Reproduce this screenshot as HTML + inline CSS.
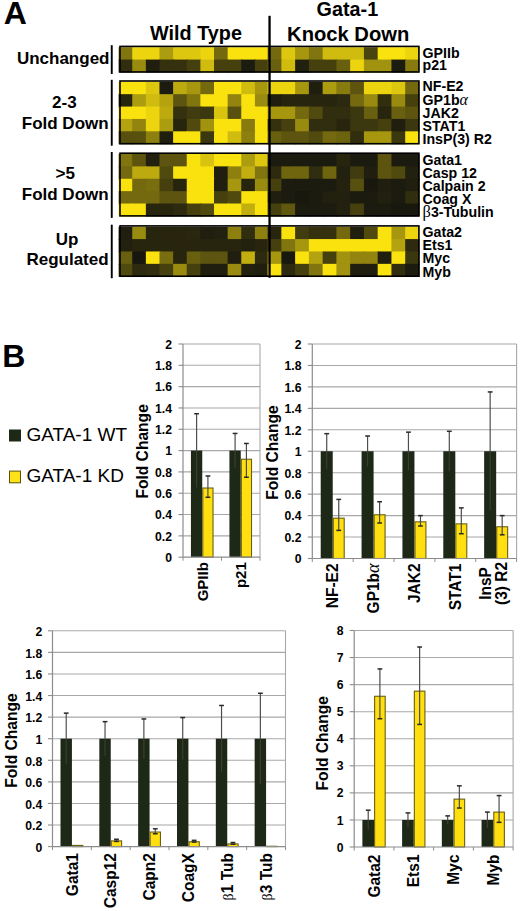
<!DOCTYPE html>
<html><head><meta charset="utf-8"><style>
html,body{margin:0;padding:0;background:#fff;}
svg{display:block;}
</style></head><body>
<svg width="520" height="911" viewBox="0 0 520 911">
<rect width="520" height="911" fill="#fff"/>
<text x="3.70" y="24.40" font-family='"Liberation Sans", sans-serif' font-size="32" font-weight="bold" text-anchor="start" >A</text>
<text x="196.00" y="40.40" font-family='"Liberation Sans", sans-serif' font-size="19.8" font-weight="bold" text-anchor="middle" >Wild Type</text>
<text x="347.40" y="16.00" font-family='"Liberation Sans", sans-serif' font-size="19.8" font-weight="bold" text-anchor="middle" >Gata-1</text>
<text x="348.20" y="40.80" font-family='"Liberation Sans", sans-serif' font-size="20.2" font-weight="bold" text-anchor="middle" >Knock Down</text>
<rect x="118.60" y="47.20" width="14.63" height="13.38" fill="#80750f"/>
<rect x="132.23" y="47.20" width="14.63" height="13.38" fill="#ecd50f"/>
<rect x="145.86" y="47.20" width="14.63" height="13.38" fill="#ecd50f"/>
<rect x="159.49" y="47.20" width="14.63" height="13.38" fill="#ac9c0f"/>
<rect x="173.12" y="47.20" width="14.63" height="13.38" fill="#ddc80f"/>
<rect x="186.75" y="47.20" width="14.63" height="13.38" fill="#ddc80f"/>
<rect x="200.38" y="47.20" width="14.63" height="13.38" fill="#ecd50f"/>
<rect x="214.01" y="47.20" width="14.63" height="13.38" fill="#74690f"/>
<rect x="227.64" y="47.20" width="14.63" height="13.38" fill="#fae20f"/>
<rect x="241.27" y="47.20" width="14.63" height="13.38" fill="#fae20f"/>
<rect x="254.90" y="47.20" width="14.63" height="13.38" fill="#fae20f"/>
<rect x="267.60" y="47.20" width="14.76" height="13.38" fill="#74690f"/>
<rect x="281.36" y="47.20" width="14.76" height="13.38" fill="#ddc80f"/>
<rect x="295.12" y="47.20" width="14.76" height="13.38" fill="#a7970f"/>
<rect x="308.88" y="47.20" width="14.76" height="13.38" fill="#80750f"/>
<rect x="322.64" y="47.20" width="14.76" height="13.38" fill="#cfbc0f"/>
<rect x="336.40" y="47.20" width="14.76" height="13.38" fill="#cfbc0f"/>
<rect x="350.16" y="47.20" width="14.76" height="13.38" fill="#cfbc0f"/>
<rect x="363.92" y="47.20" width="14.76" height="13.38" fill="#4a440f"/>
<rect x="377.68" y="47.20" width="14.76" height="13.38" fill="#fae20f"/>
<rect x="391.44" y="47.20" width="14.76" height="13.38" fill="#fae20f"/>
<rect x="405.20" y="47.20" width="14.26" height="13.38" fill="#ecd50f"/>
<text x="422.50" y="58.10" font-family='"Liberation Sans", sans-serif' font-size="14.2" font-weight="bold" text-anchor="start" >GPIIb</text>
<rect x="118.60" y="59.58" width="14.63" height="12.98" fill="#312e0f"/>
<rect x="132.23" y="59.58" width="14.63" height="12.98" fill="#998b0f"/>
<rect x="145.86" y="59.58" width="14.63" height="12.98" fill="#1f1e0f"/>
<rect x="159.49" y="59.58" width="14.63" height="12.98" fill="#35310f"/>
<rect x="173.12" y="59.58" width="14.63" height="12.98" fill="#35310f"/>
<rect x="186.75" y="59.58" width="14.63" height="12.98" fill="#46400f"/>
<rect x="200.38" y="59.58" width="14.63" height="12.98" fill="#cfbc0f"/>
<rect x="214.01" y="59.58" width="14.63" height="12.98" fill="#46400f"/>
<rect x="227.64" y="59.58" width="14.63" height="12.98" fill="#46400f"/>
<rect x="241.27" y="59.58" width="14.63" height="12.98" fill="#1c1b0f"/>
<rect x="254.90" y="59.58" width="14.63" height="12.98" fill="#46400f"/>
<rect x="267.60" y="59.58" width="14.76" height="12.98" fill="#685f0f"/>
<rect x="281.36" y="59.58" width="14.76" height="12.98" fill="#cfbc0f"/>
<rect x="295.12" y="59.58" width="14.76" height="12.98" fill="#22210f"/>
<rect x="308.88" y="59.58" width="14.76" height="12.98" fill="#46400f"/>
<rect x="322.64" y="59.58" width="14.76" height="12.98" fill="#46400f"/>
<rect x="336.40" y="59.58" width="14.76" height="12.98" fill="#685f0f"/>
<rect x="350.16" y="59.58" width="14.76" height="12.98" fill="#ecd50f"/>
<rect x="363.92" y="59.58" width="14.76" height="12.98" fill="#a1920f"/>
<rect x="377.68" y="59.58" width="14.76" height="12.98" fill="#a1920f"/>
<rect x="391.44" y="59.58" width="14.76" height="12.98" fill="#1c1b0f"/>
<rect x="405.20" y="59.58" width="14.26" height="12.98" fill="#877b0f"/>
<text x="422.50" y="70.10" font-family='"Liberation Sans", sans-serif' font-size="14.2" font-weight="bold" text-anchor="start" >p21</text>
<rect x="120.0" y="46.40" width="298.9" height="25.56" fill="none" stroke="#000" stroke-width="1.6"/>
<rect x="110.8" y="45.20" width="1.9" height="28.76" fill="#000"/>
<rect x="118.60" y="81.80" width="14.63" height="13.38" fill="#fae20f"/>
<rect x="132.23" y="81.80" width="14.63" height="13.38" fill="#fae20f"/>
<rect x="145.86" y="81.80" width="14.63" height="13.38" fill="#ddc80f"/>
<rect x="159.49" y="81.80" width="14.63" height="13.38" fill="#1c1b0f"/>
<rect x="173.12" y="81.80" width="14.63" height="13.38" fill="#bcaa0f"/>
<rect x="186.75" y="81.80" width="14.63" height="13.38" fill="#a7970f"/>
<rect x="200.38" y="81.80" width="14.63" height="13.38" fill="#74690f"/>
<rect x="214.01" y="81.80" width="14.63" height="13.38" fill="#fae20f"/>
<rect x="227.64" y="81.80" width="14.63" height="13.38" fill="#fae20f"/>
<rect x="241.27" y="81.80" width="14.63" height="13.38" fill="#cfbc0f"/>
<rect x="254.90" y="81.80" width="14.63" height="13.38" fill="#a7970f"/>
<rect x="267.60" y="81.80" width="14.76" height="13.38" fill="#ecd50f"/>
<rect x="281.36" y="81.80" width="14.76" height="13.38" fill="#ecd50f"/>
<rect x="295.12" y="81.80" width="14.76" height="13.38" fill="#a7970f"/>
<rect x="308.88" y="81.80" width="14.76" height="13.38" fill="#1f1e0f"/>
<rect x="322.64" y="81.80" width="14.76" height="13.38" fill="#ac9c0f"/>
<rect x="336.40" y="81.80" width="14.76" height="13.38" fill="#877b0f"/>
<rect x="350.16" y="81.80" width="14.76" height="13.38" fill="#5c540f"/>
<rect x="363.92" y="81.80" width="14.76" height="13.38" fill="#ecd50f"/>
<rect x="377.68" y="81.80" width="14.76" height="13.38" fill="#ecd50f"/>
<rect x="391.44" y="81.80" width="14.76" height="13.38" fill="#ddc80f"/>
<rect x="405.20" y="81.80" width="14.26" height="13.38" fill="#74690f"/>
<text x="422.50" y="91.40" font-family='"Liberation Sans", sans-serif' font-size="14.2" font-weight="bold" text-anchor="start" >NF-E2</text>
<rect x="118.60" y="94.18" width="14.63" height="13.38" fill="#28250f"/>
<rect x="132.23" y="94.18" width="14.63" height="13.38" fill="#ac9c0f"/>
<rect x="145.86" y="94.18" width="14.63" height="13.38" fill="#cfbc0f"/>
<rect x="159.49" y="94.18" width="14.63" height="13.38" fill="#b4a30f"/>
<rect x="173.12" y="94.18" width="14.63" height="13.38" fill="#5c540f"/>
<rect x="186.75" y="94.18" width="14.63" height="13.38" fill="#80750f"/>
<rect x="200.38" y="94.18" width="14.63" height="13.38" fill="#fae20f"/>
<rect x="214.01" y="94.18" width="14.63" height="13.38" fill="#fae20f"/>
<rect x="227.64" y="94.18" width="14.63" height="13.38" fill="#92840f"/>
<rect x="241.27" y="94.18" width="14.63" height="13.38" fill="#fae20f"/>
<rect x="254.90" y="94.18" width="14.63" height="13.38" fill="#998b0f"/>
<rect x="267.60" y="94.18" width="14.76" height="13.38" fill="#1f1e0f"/>
<rect x="281.36" y="94.18" width="14.76" height="13.38" fill="#28250f"/>
<rect x="295.12" y="94.18" width="14.76" height="13.38" fill="#28250f"/>
<rect x="308.88" y="94.18" width="14.76" height="13.38" fill="#28250f"/>
<rect x="322.64" y="94.18" width="14.76" height="13.38" fill="#28250f"/>
<rect x="336.40" y="94.18" width="14.76" height="13.38" fill="#2b290f"/>
<rect x="350.16" y="94.18" width="14.76" height="13.38" fill="#74690f"/>
<rect x="363.92" y="94.18" width="14.76" height="13.38" fill="#998b0f"/>
<rect x="377.68" y="94.18" width="14.76" height="13.38" fill="#312e0f"/>
<rect x="391.44" y="94.18" width="14.76" height="13.38" fill="#998b0f"/>
<rect x="405.20" y="94.18" width="14.26" height="13.38" fill="#46400f"/>
<text x="422.50" y="104.50" font-family='"Liberation Sans", sans-serif' font-size="14.2" font-weight="bold" text-anchor="start" >GP1b<tspan font-family='"Liberation Serif", serif' font-weight="normal" font-style="italic" font-size="16">α</tspan></text>
<rect x="118.60" y="106.56" width="14.63" height="13.38" fill="#fae20f"/>
<rect x="132.23" y="106.56" width="14.63" height="13.38" fill="#fae20f"/>
<rect x="145.86" y="106.56" width="14.63" height="13.38" fill="#ecd50f"/>
<rect x="159.49" y="106.56" width="14.63" height="13.38" fill="#bcaa0f"/>
<rect x="173.12" y="106.56" width="14.63" height="13.38" fill="#35310f"/>
<rect x="186.75" y="106.56" width="14.63" height="13.38" fill="#413c0f"/>
<rect x="200.38" y="106.56" width="14.63" height="13.38" fill="#3b370f"/>
<rect x="214.01" y="106.56" width="14.63" height="13.38" fill="#d8c30f"/>
<rect x="227.64" y="106.56" width="14.63" height="13.38" fill="#57500f"/>
<rect x="241.27" y="106.56" width="14.63" height="13.38" fill="#fae20f"/>
<rect x="254.90" y="106.56" width="14.63" height="13.38" fill="#fae20f"/>
<rect x="267.60" y="106.56" width="14.76" height="13.38" fill="#a7970f"/>
<rect x="281.36" y="106.56" width="14.76" height="13.38" fill="#a7970f"/>
<rect x="295.12" y="106.56" width="14.76" height="13.38" fill="#74690f"/>
<rect x="308.88" y="106.56" width="14.76" height="13.38" fill="#504a0f"/>
<rect x="322.64" y="106.56" width="14.76" height="13.38" fill="#312e0f"/>
<rect x="336.40" y="106.56" width="14.76" height="13.38" fill="#312e0f"/>
<rect x="350.16" y="106.56" width="14.76" height="13.38" fill="#3b370f"/>
<rect x="363.92" y="106.56" width="14.76" height="13.38" fill="#685f0f"/>
<rect x="377.68" y="106.56" width="14.76" height="13.38" fill="#28250f"/>
<rect x="391.44" y="106.56" width="14.76" height="13.38" fill="#685f0f"/>
<rect x="405.20" y="106.56" width="14.26" height="13.38" fill="#5c540f"/>
<text x="422.50" y="118.30" font-family='"Liberation Sans", sans-serif' font-size="14.2" font-weight="bold" text-anchor="start" >JAK2</text>
<rect x="118.60" y="118.94" width="14.63" height="13.38" fill="#b4a30f"/>
<rect x="132.23" y="118.94" width="14.63" height="13.38" fill="#92840f"/>
<rect x="145.86" y="118.94" width="14.63" height="13.38" fill="#ecd50f"/>
<rect x="159.49" y="118.94" width="14.63" height="13.38" fill="#ac9c0f"/>
<rect x="173.12" y="118.94" width="14.63" height="13.38" fill="#28250f"/>
<rect x="186.75" y="118.94" width="14.63" height="13.38" fill="#504a0f"/>
<rect x="200.38" y="118.94" width="14.63" height="13.38" fill="#a1920f"/>
<rect x="214.01" y="118.94" width="14.63" height="13.38" fill="#fae20f"/>
<rect x="227.64" y="118.94" width="14.63" height="13.38" fill="#fae20f"/>
<rect x="241.27" y="118.94" width="14.63" height="13.38" fill="#877b0f"/>
<rect x="254.90" y="118.94" width="14.63" height="13.38" fill="#fae20f"/>
<rect x="267.60" y="118.94" width="14.76" height="13.38" fill="#35310f"/>
<rect x="281.36" y="118.94" width="14.76" height="13.38" fill="#46400f"/>
<rect x="295.12" y="118.94" width="14.76" height="13.38" fill="#998b0f"/>
<rect x="308.88" y="118.94" width="14.76" height="13.38" fill="#312e0f"/>
<rect x="322.64" y="118.94" width="14.76" height="13.38" fill="#312e0f"/>
<rect x="336.40" y="118.94" width="14.76" height="13.38" fill="#28250f"/>
<rect x="350.16" y="118.94" width="14.76" height="13.38" fill="#3b370f"/>
<rect x="363.92" y="118.94" width="14.76" height="13.38" fill="#3b370f"/>
<rect x="377.68" y="118.94" width="14.76" height="13.38" fill="#46400f"/>
<rect x="391.44" y="118.94" width="14.76" height="13.38" fill="#1f1e0f"/>
<rect x="405.20" y="118.94" width="14.26" height="13.38" fill="#3b370f"/>
<text x="422.50" y="131.40" font-family='"Liberation Sans", sans-serif' font-size="14.2" font-weight="bold" text-anchor="start" >STAT1</text>
<rect x="118.60" y="131.32" width="14.63" height="12.98" fill="#57500f"/>
<rect x="132.23" y="131.32" width="14.63" height="12.98" fill="#57500f"/>
<rect x="145.86" y="131.32" width="14.63" height="12.98" fill="#8d800f"/>
<rect x="159.49" y="131.32" width="14.63" height="12.98" fill="#1f1e0f"/>
<rect x="173.12" y="131.32" width="14.63" height="12.98" fill="#fae20f"/>
<rect x="186.75" y="131.32" width="14.63" height="12.98" fill="#fae20f"/>
<rect x="200.38" y="131.32" width="14.63" height="12.98" fill="#3b370f"/>
<rect x="214.01" y="131.32" width="14.63" height="12.98" fill="#fae20f"/>
<rect x="227.64" y="131.32" width="14.63" height="12.98" fill="#cfbc0f"/>
<rect x="241.27" y="131.32" width="14.63" height="12.98" fill="#8d800f"/>
<rect x="254.90" y="131.32" width="14.63" height="12.98" fill="#fae20f"/>
<rect x="267.60" y="131.32" width="14.76" height="12.98" fill="#685f0f"/>
<rect x="281.36" y="131.32" width="14.76" height="12.98" fill="#5c540f"/>
<rect x="295.12" y="131.32" width="14.76" height="12.98" fill="#5c540f"/>
<rect x="308.88" y="131.32" width="14.76" height="12.98" fill="#504a0f"/>
<rect x="322.64" y="131.32" width="14.76" height="12.98" fill="#74690f"/>
<rect x="336.40" y="131.32" width="14.76" height="12.98" fill="#6c630f"/>
<rect x="350.16" y="131.32" width="14.76" height="12.98" fill="#312e0f"/>
<rect x="363.92" y="131.32" width="14.76" height="12.98" fill="#a7970f"/>
<rect x="377.68" y="131.32" width="14.76" height="12.98" fill="#a7970f"/>
<rect x="391.44" y="131.32" width="14.76" height="12.98" fill="#3b370f"/>
<rect x="405.20" y="131.32" width="14.26" height="12.98" fill="#fae20f"/>
<text x="422.50" y="143.70" font-family='"Liberation Sans", sans-serif' font-size="14.2" font-weight="bold" text-anchor="start" >InsP(3) R2</text>
<rect x="120.0" y="81.00" width="298.9" height="62.70" fill="none" stroke="#000" stroke-width="1.6"/>
<rect x="110.8" y="79.80" width="1.9" height="65.90" fill="#000"/>
<rect x="118.60" y="154.00" width="14.63" height="13.38" fill="#80750f"/>
<rect x="132.23" y="154.00" width="14.63" height="13.38" fill="#5c540f"/>
<rect x="145.86" y="154.00" width="14.63" height="13.38" fill="#22210f"/>
<rect x="159.49" y="154.00" width="14.63" height="13.38" fill="#5c540f"/>
<rect x="173.12" y="154.00" width="14.63" height="13.38" fill="#5c540f"/>
<rect x="186.75" y="154.00" width="14.63" height="13.38" fill="#fae20f"/>
<rect x="200.38" y="154.00" width="14.63" height="13.38" fill="#d8c30f"/>
<rect x="214.01" y="154.00" width="14.63" height="13.38" fill="#fae20f"/>
<rect x="227.64" y="154.00" width="14.63" height="13.38" fill="#fae20f"/>
<rect x="241.27" y="154.00" width="14.63" height="13.38" fill="#ac9c0f"/>
<rect x="254.90" y="154.00" width="14.63" height="13.38" fill="#ddc80f"/>
<rect x="267.60" y="154.00" width="14.76" height="13.38" fill="#1c1b0f"/>
<rect x="281.36" y="154.00" width="14.76" height="13.38" fill="#1c1b0f"/>
<rect x="295.12" y="154.00" width="14.76" height="13.38" fill="#1c1b0f"/>
<rect x="308.88" y="154.00" width="14.76" height="13.38" fill="#1c1b0f"/>
<rect x="322.64" y="154.00" width="14.76" height="13.38" fill="#1c1b0f"/>
<rect x="336.40" y="154.00" width="14.76" height="13.38" fill="#28250f"/>
<rect x="350.16" y="154.00" width="14.76" height="13.38" fill="#1c1b0f"/>
<rect x="363.92" y="154.00" width="14.76" height="13.38" fill="#1c1b0f"/>
<rect x="377.68" y="154.00" width="14.76" height="13.38" fill="#5c540f"/>
<rect x="391.44" y="154.00" width="14.76" height="13.38" fill="#1c1b0f"/>
<rect x="405.20" y="154.00" width="14.26" height="13.38" fill="#1c1b0f"/>
<text x="422.50" y="164.50" font-family='"Liberation Sans", sans-serif' font-size="14.2" font-weight="bold" text-anchor="start" >Gata1</text>
<rect x="118.60" y="166.38" width="14.63" height="13.38" fill="#74690f"/>
<rect x="132.23" y="166.38" width="14.63" height="13.38" fill="#bcaa0f"/>
<rect x="145.86" y="166.38" width="14.63" height="13.38" fill="#bcaa0f"/>
<rect x="159.49" y="166.38" width="14.63" height="13.38" fill="#504a0f"/>
<rect x="173.12" y="166.38" width="14.63" height="13.38" fill="#fae20f"/>
<rect x="186.75" y="166.38" width="14.63" height="13.38" fill="#fae20f"/>
<rect x="200.38" y="166.38" width="14.63" height="13.38" fill="#fae20f"/>
<rect x="214.01" y="166.38" width="14.63" height="13.38" fill="#1f1e0f"/>
<rect x="227.64" y="166.38" width="14.63" height="13.38" fill="#8d800f"/>
<rect x="241.27" y="166.38" width="14.63" height="13.38" fill="#c2af0f"/>
<rect x="254.90" y="166.38" width="14.63" height="13.38" fill="#80750f"/>
<rect x="267.60" y="166.38" width="14.76" height="13.38" fill="#2d2a0f"/>
<rect x="281.36" y="166.38" width="14.76" height="13.38" fill="#6f650f"/>
<rect x="295.12" y="166.38" width="14.76" height="13.38" fill="#6f650f"/>
<rect x="308.88" y="166.38" width="14.76" height="13.38" fill="#312e0f"/>
<rect x="322.64" y="166.38" width="14.76" height="13.38" fill="#6f650f"/>
<rect x="336.40" y="166.38" width="14.76" height="13.38" fill="#22210f"/>
<rect x="350.16" y="166.38" width="14.76" height="13.38" fill="#413c0f"/>
<rect x="363.92" y="166.38" width="14.76" height="13.38" fill="#1f1e0f"/>
<rect x="377.68" y="166.38" width="14.76" height="13.38" fill="#5c540f"/>
<rect x="391.44" y="166.38" width="14.76" height="13.38" fill="#504a0f"/>
<rect x="405.20" y="166.38" width="14.26" height="13.38" fill="#22210f"/>
<text x="422.50" y="178.00" font-family='"Liberation Sans", sans-serif' font-size="14.2" font-weight="bold" text-anchor="start" >Casp 12</text>
<rect x="118.60" y="178.76" width="14.63" height="13.38" fill="#fae20f"/>
<rect x="132.23" y="178.76" width="14.63" height="13.38" fill="#74690f"/>
<rect x="145.86" y="178.76" width="14.63" height="13.38" fill="#786e0f"/>
<rect x="159.49" y="178.76" width="14.63" height="13.38" fill="#46400f"/>
<rect x="173.12" y="178.76" width="14.63" height="13.38" fill="#28250f"/>
<rect x="186.75" y="178.76" width="14.63" height="13.38" fill="#fae20f"/>
<rect x="200.38" y="178.76" width="14.63" height="13.38" fill="#fae20f"/>
<rect x="214.01" y="178.76" width="14.63" height="13.38" fill="#1f1e0f"/>
<rect x="227.64" y="178.76" width="14.63" height="13.38" fill="#a7970f"/>
<rect x="241.27" y="178.76" width="14.63" height="13.38" fill="#28250f"/>
<rect x="254.90" y="178.76" width="14.63" height="13.38" fill="#998b0f"/>
<rect x="267.60" y="178.76" width="14.76" height="13.38" fill="#46400f"/>
<rect x="281.36" y="178.76" width="14.76" height="13.38" fill="#1c1b0f"/>
<rect x="295.12" y="178.76" width="14.76" height="13.38" fill="#1c1b0f"/>
<rect x="308.88" y="178.76" width="14.76" height="13.38" fill="#1c1b0f"/>
<rect x="322.64" y="178.76" width="14.76" height="13.38" fill="#1c1b0f"/>
<rect x="336.40" y="178.76" width="14.76" height="13.38" fill="#24220f"/>
<rect x="350.16" y="178.76" width="14.76" height="13.38" fill="#57500f"/>
<rect x="363.92" y="178.76" width="14.76" height="13.38" fill="#19180f"/>
<rect x="377.68" y="178.76" width="14.76" height="13.38" fill="#1f1e0f"/>
<rect x="391.44" y="178.76" width="14.76" height="13.38" fill="#1c1b0f"/>
<rect x="405.20" y="178.76" width="14.26" height="13.38" fill="#1f1e0f"/>
<text x="422.50" y="191.00" font-family='"Liberation Sans", sans-serif' font-size="14.2" font-weight="bold" text-anchor="start" >Calpain 2</text>
<rect x="118.60" y="191.14" width="14.63" height="13.38" fill="#74690f"/>
<rect x="132.23" y="191.14" width="14.63" height="13.38" fill="#74690f"/>
<rect x="145.86" y="191.14" width="14.63" height="13.38" fill="#74690f"/>
<rect x="159.49" y="191.14" width="14.63" height="13.38" fill="#5c540f"/>
<rect x="173.12" y="191.14" width="14.63" height="13.38" fill="#5c540f"/>
<rect x="186.75" y="191.14" width="14.63" height="13.38" fill="#fae20f"/>
<rect x="200.38" y="191.14" width="14.63" height="13.38" fill="#fae20f"/>
<rect x="214.01" y="191.14" width="14.63" height="13.38" fill="#46400f"/>
<rect x="227.64" y="191.14" width="14.63" height="13.38" fill="#504a0f"/>
<rect x="241.27" y="191.14" width="14.63" height="13.38" fill="#fae20f"/>
<rect x="254.90" y="191.14" width="14.63" height="13.38" fill="#fae20f"/>
<rect x="267.60" y="191.14" width="14.76" height="13.38" fill="#1f1e0f"/>
<rect x="281.36" y="191.14" width="14.76" height="13.38" fill="#1c1b0f"/>
<rect x="295.12" y="191.14" width="14.76" height="13.38" fill="#19180f"/>
<rect x="308.88" y="191.14" width="14.76" height="13.38" fill="#1c1b0f"/>
<rect x="322.64" y="191.14" width="14.76" height="13.38" fill="#22210f"/>
<rect x="336.40" y="191.14" width="14.76" height="13.38" fill="#22210f"/>
<rect x="350.16" y="191.14" width="14.76" height="13.38" fill="#1c1b0f"/>
<rect x="363.92" y="191.14" width="14.76" height="13.38" fill="#1c1b0f"/>
<rect x="377.68" y="191.14" width="14.76" height="13.38" fill="#22210f"/>
<rect x="391.44" y="191.14" width="14.76" height="13.38" fill="#1c1b0f"/>
<rect x="405.20" y="191.14" width="14.26" height="13.38" fill="#312e0f"/>
<text x="422.50" y="203.90" font-family='"Liberation Sans", sans-serif' font-size="14.2" font-weight="bold" text-anchor="start" >Coag X</text>
<rect x="118.60" y="203.52" width="14.63" height="12.98" fill="#fae20f"/>
<rect x="132.23" y="203.52" width="14.63" height="12.98" fill="#fae20f"/>
<rect x="145.86" y="203.52" width="14.63" height="12.98" fill="#28250f"/>
<rect x="159.49" y="203.52" width="14.63" height="12.98" fill="#28250f"/>
<rect x="173.12" y="203.52" width="14.63" height="12.98" fill="#2d2a0f"/>
<rect x="186.75" y="203.52" width="14.63" height="12.98" fill="#46400f"/>
<rect x="200.38" y="203.52" width="14.63" height="12.98" fill="#504a0f"/>
<rect x="214.01" y="203.52" width="14.63" height="12.98" fill="#fae20f"/>
<rect x="227.64" y="203.52" width="14.63" height="12.98" fill="#fae20f"/>
<rect x="241.27" y="203.52" width="14.63" height="12.98" fill="#c2af0f"/>
<rect x="254.90" y="203.52" width="14.63" height="12.98" fill="#fae20f"/>
<rect x="267.60" y="203.52" width="14.76" height="12.98" fill="#46400f"/>
<rect x="281.36" y="203.52" width="14.76" height="12.98" fill="#60580f"/>
<rect x="295.12" y="203.52" width="14.76" height="12.98" fill="#1c1b0f"/>
<rect x="308.88" y="203.52" width="14.76" height="12.98" fill="#1c1b0f"/>
<rect x="322.64" y="203.52" width="14.76" height="12.98" fill="#1c1b0f"/>
<rect x="336.40" y="203.52" width="14.76" height="12.98" fill="#22210f"/>
<rect x="350.16" y="203.52" width="14.76" height="12.98" fill="#46400f"/>
<rect x="363.92" y="203.52" width="14.76" height="12.98" fill="#1c1b0f"/>
<rect x="377.68" y="203.52" width="14.76" height="12.98" fill="#1c1b0f"/>
<rect x="391.44" y="203.52" width="14.76" height="12.98" fill="#19180f"/>
<rect x="405.20" y="203.52" width="14.26" height="12.98" fill="#19180f"/>
<text x="422.50" y="216.90" font-family='"Liberation Sans", sans-serif' font-size="14.2" font-weight="bold" text-anchor="start" ><tspan font-family='"Liberation Serif", serif' font-weight="normal" font-size="16.5">β</tspan>3-Tubulin</text>
<rect x="120.0" y="153.20" width="298.9" height="62.70" fill="none" stroke="#000" stroke-width="1.6"/>
<rect x="110.8" y="152.00" width="1.9" height="65.90" fill="#000"/>
<rect x="118.60" y="226.70" width="14.63" height="13.38" fill="#1f1e0f"/>
<rect x="132.23" y="226.70" width="14.63" height="13.38" fill="#998b0f"/>
<rect x="145.86" y="226.70" width="14.63" height="13.38" fill="#28250f"/>
<rect x="159.49" y="226.70" width="14.63" height="13.38" fill="#28250f"/>
<rect x="173.12" y="226.70" width="14.63" height="13.38" fill="#28250f"/>
<rect x="186.75" y="226.70" width="14.63" height="13.38" fill="#29270f"/>
<rect x="200.38" y="226.70" width="14.63" height="13.38" fill="#1f1e0f"/>
<rect x="214.01" y="226.70" width="14.63" height="13.38" fill="#22210f"/>
<rect x="227.64" y="226.70" width="14.63" height="13.38" fill="#8d800f"/>
<rect x="241.27" y="226.70" width="14.63" height="13.38" fill="#312e0f"/>
<rect x="254.90" y="226.70" width="14.63" height="13.38" fill="#8d800f"/>
<rect x="267.60" y="226.70" width="14.76" height="13.38" fill="#28250f"/>
<rect x="281.36" y="226.70" width="14.76" height="13.38" fill="#fae20f"/>
<rect x="295.12" y="226.70" width="14.76" height="13.38" fill="#413c0f"/>
<rect x="308.88" y="226.70" width="14.76" height="13.38" fill="#35310f"/>
<rect x="322.64" y="226.70" width="14.76" height="13.38" fill="#35310f"/>
<rect x="336.40" y="226.70" width="14.76" height="13.38" fill="#74690f"/>
<rect x="350.16" y="226.70" width="14.76" height="13.38" fill="#1f1e0f"/>
<rect x="363.92" y="226.70" width="14.76" height="13.38" fill="#504a0f"/>
<rect x="377.68" y="226.70" width="14.76" height="13.38" fill="#fae20f"/>
<rect x="391.44" y="226.70" width="14.76" height="13.38" fill="#a7970f"/>
<rect x="405.20" y="226.70" width="14.26" height="13.38" fill="#ecd50f"/>
<text x="422.50" y="237.00" font-family='"Liberation Sans", sans-serif' font-size="14.2" font-weight="bold" text-anchor="start" >Gata2</text>
<rect x="118.60" y="239.08" width="14.63" height="13.38" fill="#22210f"/>
<rect x="132.23" y="239.08" width="14.63" height="13.38" fill="#28250f"/>
<rect x="145.86" y="239.08" width="14.63" height="13.38" fill="#28250f"/>
<rect x="159.49" y="239.08" width="14.63" height="13.38" fill="#28250f"/>
<rect x="173.12" y="239.08" width="14.63" height="13.38" fill="#28250f"/>
<rect x="186.75" y="239.08" width="14.63" height="13.38" fill="#28250f"/>
<rect x="200.38" y="239.08" width="14.63" height="13.38" fill="#28250f"/>
<rect x="214.01" y="239.08" width="14.63" height="13.38" fill="#28250f"/>
<rect x="227.64" y="239.08" width="14.63" height="13.38" fill="#28250f"/>
<rect x="241.27" y="239.08" width="14.63" height="13.38" fill="#22210f"/>
<rect x="254.90" y="239.08" width="14.63" height="13.38" fill="#28250f"/>
<rect x="267.60" y="239.08" width="14.76" height="13.38" fill="#46400f"/>
<rect x="281.36" y="239.08" width="14.76" height="13.38" fill="#80750f"/>
<rect x="295.12" y="239.08" width="14.76" height="13.38" fill="#a7970f"/>
<rect x="308.88" y="239.08" width="14.76" height="13.38" fill="#fae20f"/>
<rect x="322.64" y="239.08" width="14.76" height="13.38" fill="#fae20f"/>
<rect x="336.40" y="239.08" width="14.76" height="13.38" fill="#fae20f"/>
<rect x="350.16" y="239.08" width="14.76" height="13.38" fill="#fae20f"/>
<rect x="363.92" y="239.08" width="14.76" height="13.38" fill="#fae20f"/>
<rect x="377.68" y="239.08" width="14.76" height="13.38" fill="#fae20f"/>
<rect x="391.44" y="239.08" width="14.76" height="13.38" fill="#b4a30f"/>
<rect x="405.20" y="239.08" width="14.26" height="13.38" fill="#2d2a0f"/>
<text x="422.50" y="250.00" font-family='"Liberation Sans", sans-serif' font-size="14.2" font-weight="bold" text-anchor="start" >Ets1</text>
<rect x="118.60" y="251.46" width="14.63" height="13.38" fill="#685f0f"/>
<rect x="132.23" y="251.46" width="14.63" height="13.38" fill="#17170f"/>
<rect x="145.86" y="251.46" width="14.63" height="13.38" fill="#fae20f"/>
<rect x="159.49" y="251.46" width="14.63" height="13.38" fill="#786e0f"/>
<rect x="173.12" y="251.46" width="14.63" height="13.38" fill="#28250f"/>
<rect x="186.75" y="251.46" width="14.63" height="13.38" fill="#685f0f"/>
<rect x="200.38" y="251.46" width="14.63" height="13.38" fill="#5c540f"/>
<rect x="214.01" y="251.46" width="14.63" height="13.38" fill="#5c540f"/>
<rect x="227.64" y="251.46" width="14.63" height="13.38" fill="#1f1e0f"/>
<rect x="241.27" y="251.46" width="14.63" height="13.38" fill="#c2af0f"/>
<rect x="254.90" y="251.46" width="14.63" height="13.38" fill="#2d2a0f"/>
<rect x="267.60" y="251.46" width="14.76" height="13.38" fill="#a7970f"/>
<rect x="281.36" y="251.46" width="14.76" height="13.38" fill="#19180f"/>
<rect x="295.12" y="251.46" width="14.76" height="13.38" fill="#fae20f"/>
<rect x="308.88" y="251.46" width="14.76" height="13.38" fill="#b4a30f"/>
<rect x="322.64" y="251.46" width="14.76" height="13.38" fill="#46400f"/>
<rect x="336.40" y="251.46" width="14.76" height="13.38" fill="#a1920f"/>
<rect x="350.16" y="251.46" width="14.76" height="13.38" fill="#92840f"/>
<rect x="363.92" y="251.46" width="14.76" height="13.38" fill="#92840f"/>
<rect x="377.68" y="251.46" width="14.76" height="13.38" fill="#1f1e0f"/>
<rect x="391.44" y="251.46" width="14.76" height="13.38" fill="#fae20f"/>
<rect x="405.20" y="251.46" width="14.26" height="13.38" fill="#3b370f"/>
<text x="422.50" y="263.10" font-family='"Liberation Sans", sans-serif' font-size="14.2" font-weight="bold" text-anchor="start" >Myc</text>
<rect x="118.60" y="263.84" width="14.63" height="12.98" fill="#504a0f"/>
<rect x="132.23" y="263.84" width="14.63" height="12.98" fill="#2d2a0f"/>
<rect x="145.86" y="263.84" width="14.63" height="12.98" fill="#312e0f"/>
<rect x="159.49" y="263.84" width="14.63" height="12.98" fill="#46400f"/>
<rect x="173.12" y="263.84" width="14.63" height="12.98" fill="#998b0f"/>
<rect x="186.75" y="263.84" width="14.63" height="12.98" fill="#46400f"/>
<rect x="200.38" y="263.84" width="14.63" height="12.98" fill="#1f1e0f"/>
<rect x="214.01" y="263.84" width="14.63" height="12.98" fill="#1f1e0f"/>
<rect x="227.64" y="263.84" width="14.63" height="12.98" fill="#998b0f"/>
<rect x="241.27" y="263.84" width="14.63" height="12.98" fill="#22210f"/>
<rect x="254.90" y="263.84" width="14.63" height="12.98" fill="#1f1e0f"/>
<rect x="267.60" y="263.84" width="14.76" height="12.98" fill="#fae20f"/>
<rect x="281.36" y="263.84" width="14.76" height="12.98" fill="#2d2a0f"/>
<rect x="295.12" y="263.84" width="14.76" height="12.98" fill="#46400f"/>
<rect x="308.88" y="263.84" width="14.76" height="12.98" fill="#80750f"/>
<rect x="322.64" y="263.84" width="14.76" height="12.98" fill="#fae20f"/>
<rect x="336.40" y="263.84" width="14.76" height="12.98" fill="#a1920f"/>
<rect x="350.16" y="263.84" width="14.76" height="12.98" fill="#1f1e0f"/>
<rect x="363.92" y="263.84" width="14.76" height="12.98" fill="#1f1e0f"/>
<rect x="377.68" y="263.84" width="14.76" height="12.98" fill="#fae20f"/>
<rect x="391.44" y="263.84" width="14.76" height="12.98" fill="#312e0f"/>
<rect x="405.20" y="263.84" width="14.26" height="12.98" fill="#1c1b0f"/>
<text x="422.50" y="276.60" font-family='"Liberation Sans", sans-serif' font-size="14.2" font-weight="bold" text-anchor="start" >Myb</text>
<rect x="120.0" y="225.90" width="298.9" height="50.32" fill="none" stroke="#000" stroke-width="1.6"/>
<rect x="110.8" y="224.70" width="1.9" height="53.52" fill="#000"/>
<rect x="268.4" y="15.8" width="2.3" height="262.0" fill="#000"/>
<text x="63.20" y="63.80" font-family='"Liberation Sans", sans-serif' font-size="17" font-weight="bold" text-anchor="middle" >Unchanged</text>
<text x="64.40" y="108.20" font-family='"Liberation Sans", sans-serif' font-size="17" font-weight="bold" text-anchor="middle" >2-3</text>
<text x="65.20" y="128.90" font-family='"Liberation Sans", sans-serif' font-size="17" font-weight="bold" text-anchor="middle" >Fold Down</text>
<text x="65.20" y="178.80" font-family='"Liberation Sans", sans-serif' font-size="17" font-weight="bold" text-anchor="middle" >&gt;5</text>
<text x="65.20" y="200.00" font-family='"Liberation Sans", sans-serif' font-size="17" font-weight="bold" text-anchor="middle" >Fold Down</text>
<text x="67.00" y="245.00" font-family='"Liberation Sans", sans-serif' font-size="17" font-weight="bold" text-anchor="middle" >Up</text>
<text x="67.50" y="265.40" font-family='"Liberation Sans", sans-serif' font-size="17" font-weight="bold" text-anchor="middle" >Regulated</text>
<text x="2.30" y="366.80" font-family='"Liberation Sans", sans-serif' font-size="32" font-weight="bold" text-anchor="start" >B</text>
<rect x="9" y="429.5" width="12" height="12" fill="#1d2817"/>
<text x="26.40" y="440.80" font-family='"Liberation Sans", sans-serif' font-size="19" font-weight="normal" text-anchor="start" >GATA-1 WT</text>
<rect x="9.5" y="471.1" width="11" height="11.7" fill="#ffe119" stroke="#59500a" stroke-width="1"/>
<text x="26.40" y="482.30" font-family='"Liberation Sans", sans-serif' font-size="19" font-weight="normal" text-anchor="start" >GATA-1 KD</text>
<line x1="178.50" y1="557.20" x2="183.00" y2="557.20" stroke="#8c8c8c" stroke-width="1.1"/>
<text x="172.00" y="562.00" font-family='"Liberation Sans", sans-serif' font-size="12.2" font-weight="bold" text-anchor="end" >0</text>
<line x1="183.00" y1="535.88" x2="260.00" y2="535.88" stroke="#a8a8a8" stroke-width="1.1"/>
<line x1="178.50" y1="535.88" x2="183.00" y2="535.88" stroke="#8c8c8c" stroke-width="1.1"/>
<text x="172.00" y="540.68" font-family='"Liberation Sans", sans-serif' font-size="12.2" font-weight="bold" text-anchor="end" >0.2</text>
<line x1="183.00" y1="514.56" x2="260.00" y2="514.56" stroke="#a8a8a8" stroke-width="1.1"/>
<line x1="178.50" y1="514.56" x2="183.00" y2="514.56" stroke="#8c8c8c" stroke-width="1.1"/>
<text x="172.00" y="519.36" font-family='"Liberation Sans", sans-serif' font-size="12.2" font-weight="bold" text-anchor="end" >0.4</text>
<line x1="183.00" y1="493.24" x2="260.00" y2="493.24" stroke="#a8a8a8" stroke-width="1.1"/>
<line x1="178.50" y1="493.24" x2="183.00" y2="493.24" stroke="#8c8c8c" stroke-width="1.1"/>
<text x="172.00" y="498.04" font-family='"Liberation Sans", sans-serif' font-size="12.2" font-weight="bold" text-anchor="end" >0.6</text>
<line x1="183.00" y1="471.92" x2="260.00" y2="471.92" stroke="#a8a8a8" stroke-width="1.1"/>
<line x1="178.50" y1="471.92" x2="183.00" y2="471.92" stroke="#8c8c8c" stroke-width="1.1"/>
<text x="172.00" y="476.72" font-family='"Liberation Sans", sans-serif' font-size="12.2" font-weight="bold" text-anchor="end" >0.8</text>
<line x1="183.00" y1="450.60" x2="260.00" y2="450.60" stroke="#a8a8a8" stroke-width="1.1"/>
<line x1="178.50" y1="450.60" x2="183.00" y2="450.60" stroke="#8c8c8c" stroke-width="1.1"/>
<text x="172.00" y="455.40" font-family='"Liberation Sans", sans-serif' font-size="12.2" font-weight="bold" text-anchor="end" >1</text>
<line x1="183.00" y1="429.28" x2="260.00" y2="429.28" stroke="#a8a8a8" stroke-width="1.1"/>
<line x1="178.50" y1="429.28" x2="183.00" y2="429.28" stroke="#8c8c8c" stroke-width="1.1"/>
<text x="172.00" y="434.08" font-family='"Liberation Sans", sans-serif' font-size="12.2" font-weight="bold" text-anchor="end" >1.2</text>
<line x1="183.00" y1="407.96" x2="260.00" y2="407.96" stroke="#a8a8a8" stroke-width="1.1"/>
<line x1="178.50" y1="407.96" x2="183.00" y2="407.96" stroke="#8c8c8c" stroke-width="1.1"/>
<text x="172.00" y="412.76" font-family='"Liberation Sans", sans-serif' font-size="12.2" font-weight="bold" text-anchor="end" >1.4</text>
<line x1="183.00" y1="386.64" x2="260.00" y2="386.64" stroke="#a8a8a8" stroke-width="1.1"/>
<line x1="178.50" y1="386.64" x2="183.00" y2="386.64" stroke="#8c8c8c" stroke-width="1.1"/>
<text x="172.00" y="391.44" font-family='"Liberation Sans", sans-serif' font-size="12.2" font-weight="bold" text-anchor="end" >1.6</text>
<line x1="183.00" y1="365.32" x2="260.00" y2="365.32" stroke="#a8a8a8" stroke-width="1.1"/>
<line x1="178.50" y1="365.32" x2="183.00" y2="365.32" stroke="#8c8c8c" stroke-width="1.1"/>
<text x="172.00" y="370.12" font-family='"Liberation Sans", sans-serif' font-size="12.2" font-weight="bold" text-anchor="end" >1.8</text>
<line x1="183.00" y1="344.00" x2="260.00" y2="344.00" stroke="#a8a8a8" stroke-width="1.1"/>
<line x1="178.50" y1="344.00" x2="183.00" y2="344.00" stroke="#8c8c8c" stroke-width="1.1"/>
<text x="172.00" y="348.80" font-family='"Liberation Sans", sans-serif' font-size="12.2" font-weight="bold" text-anchor="end" >2</text>
<line x1="260.00" y1="344.00" x2="260.00" y2="557.20" stroke="#a8a8a8" stroke-width="1.1"/>
<rect x="190.93" y="450.60" width="11.32" height="106.60" fill="#1d2817"/>
<rect x="202.80" y="488.03" width="10.22" height="69.17" fill="#ffdf10" stroke="#6b5f10" stroke-width="1.1"/>
<line x1="196.59" y1="413.72" x2="196.59" y2="450.60" stroke="#4d4d4d" stroke-width="1.2"/>
<line x1="196.59" y1="450.60" x2="196.59" y2="487.48" stroke="#3c3d33" stroke-width="1.2"/>
<line x1="194.19" y1="413.72" x2="198.99" y2="413.72" stroke="#2a2a2a" stroke-width="1.5"/>
<line x1="207.91" y1="475.97" x2="207.91" y2="497.29" stroke="#4d4d4d" stroke-width="1.2"/>
<line x1="205.51" y1="475.97" x2="210.31" y2="475.97" stroke="#2a2a2a" stroke-width="1.5"/>
<line x1="205.51" y1="497.29" x2="210.31" y2="497.29" stroke="#2a2a2a" stroke-width="1.5"/>
<rect x="229.43" y="450.60" width="11.32" height="106.60" fill="#1d2817"/>
<rect x="241.30" y="459.25" width="10.22" height="97.95" fill="#ffdf10" stroke="#6b5f10" stroke-width="1.1"/>
<line x1="235.09" y1="433.44" x2="235.09" y2="450.60" stroke="#4d4d4d" stroke-width="1.2"/>
<line x1="235.09" y1="450.60" x2="235.09" y2="467.76" stroke="#3c3d33" stroke-width="1.2"/>
<line x1="232.69" y1="433.44" x2="237.49" y2="433.44" stroke="#2a2a2a" stroke-width="1.5"/>
<line x1="246.41" y1="443.46" x2="246.41" y2="477.25" stroke="#4d4d4d" stroke-width="1.2"/>
<line x1="244.01" y1="443.46" x2="248.81" y2="443.46" stroke="#2a2a2a" stroke-width="1.5"/>
<line x1="244.01" y1="477.25" x2="248.81" y2="477.25" stroke="#2a2a2a" stroke-width="1.5"/>
<line x1="183.00" y1="344.00" x2="183.00" y2="557.20" stroke="#8c8c8c" stroke-width="1.2"/>
<line x1="183.00" y1="557.20" x2="260.00" y2="557.20" stroke="#8c8c8c" stroke-width="1.2"/>
<line x1="183.00" y1="557.20" x2="183.00" y2="560.70" stroke="#8c8c8c" stroke-width="1"/>
<line x1="221.50" y1="557.20" x2="221.50" y2="560.70" stroke="#8c8c8c" stroke-width="1"/>
<line x1="260.00" y1="557.20" x2="260.00" y2="560.70" stroke="#8c8c8c" stroke-width="1"/>
<text transform="translate(147.80,451.40) rotate(-90)" x="0" y="0" font-family='"Liberation Sans", sans-serif' font-size="15.6" font-weight="bold" text-anchor="middle">Fold Change</text>
<text transform="translate(207.85,562.20) rotate(-90) scale(1,1.0)" x="0" y="0" font-family='"Liberation Sans", sans-serif' font-size="15.0" font-weight="bold" text-anchor="end">GPIIb</text>
<text transform="translate(246.35,562.20) rotate(-90) scale(1,1.0)" x="0" y="0" font-family='"Liberation Sans", sans-serif' font-size="15.0" font-weight="bold" text-anchor="end">p21</text>
<line x1="307.80" y1="558.50" x2="312.30" y2="558.50" stroke="#8c8c8c" stroke-width="1.1"/>
<text x="301.50" y="563.30" font-family='"Liberation Sans", sans-serif' font-size="12.2" font-weight="bold" text-anchor="end" >0</text>
<line x1="312.30" y1="537.05" x2="516.60" y2="537.05" stroke="#a8a8a8" stroke-width="1.1"/>
<line x1="307.80" y1="537.05" x2="312.30" y2="537.05" stroke="#8c8c8c" stroke-width="1.1"/>
<text x="301.50" y="541.85" font-family='"Liberation Sans", sans-serif' font-size="12.2" font-weight="bold" text-anchor="end" >0.2</text>
<line x1="312.30" y1="515.60" x2="516.60" y2="515.60" stroke="#a8a8a8" stroke-width="1.1"/>
<line x1="307.80" y1="515.60" x2="312.30" y2="515.60" stroke="#8c8c8c" stroke-width="1.1"/>
<text x="301.50" y="520.40" font-family='"Liberation Sans", sans-serif' font-size="12.2" font-weight="bold" text-anchor="end" >0.4</text>
<line x1="312.30" y1="494.15" x2="516.60" y2="494.15" stroke="#a8a8a8" stroke-width="1.1"/>
<line x1="307.80" y1="494.15" x2="312.30" y2="494.15" stroke="#8c8c8c" stroke-width="1.1"/>
<text x="301.50" y="498.95" font-family='"Liberation Sans", sans-serif' font-size="12.2" font-weight="bold" text-anchor="end" >0.6</text>
<line x1="312.30" y1="472.70" x2="516.60" y2="472.70" stroke="#a8a8a8" stroke-width="1.1"/>
<line x1="307.80" y1="472.70" x2="312.30" y2="472.70" stroke="#8c8c8c" stroke-width="1.1"/>
<text x="301.50" y="477.50" font-family='"Liberation Sans", sans-serif' font-size="12.2" font-weight="bold" text-anchor="end" >0.8</text>
<line x1="312.30" y1="451.25" x2="516.60" y2="451.25" stroke="#a8a8a8" stroke-width="1.1"/>
<line x1="307.80" y1="451.25" x2="312.30" y2="451.25" stroke="#8c8c8c" stroke-width="1.1"/>
<text x="301.50" y="456.05" font-family='"Liberation Sans", sans-serif' font-size="12.2" font-weight="bold" text-anchor="end" >1</text>
<line x1="312.30" y1="429.80" x2="516.60" y2="429.80" stroke="#a8a8a8" stroke-width="1.1"/>
<line x1="307.80" y1="429.80" x2="312.30" y2="429.80" stroke="#8c8c8c" stroke-width="1.1"/>
<text x="301.50" y="434.60" font-family='"Liberation Sans", sans-serif' font-size="12.2" font-weight="bold" text-anchor="end" >1.2</text>
<line x1="312.30" y1="408.35" x2="516.60" y2="408.35" stroke="#a8a8a8" stroke-width="1.1"/>
<line x1="307.80" y1="408.35" x2="312.30" y2="408.35" stroke="#8c8c8c" stroke-width="1.1"/>
<text x="301.50" y="413.15" font-family='"Liberation Sans", sans-serif' font-size="12.2" font-weight="bold" text-anchor="end" >1.4</text>
<line x1="312.30" y1="386.90" x2="516.60" y2="386.90" stroke="#a8a8a8" stroke-width="1.1"/>
<line x1="307.80" y1="386.90" x2="312.30" y2="386.90" stroke="#8c8c8c" stroke-width="1.1"/>
<text x="301.50" y="391.70" font-family='"Liberation Sans", sans-serif' font-size="12.2" font-weight="bold" text-anchor="end" >1.6</text>
<line x1="312.30" y1="365.45" x2="516.60" y2="365.45" stroke="#a8a8a8" stroke-width="1.1"/>
<line x1="307.80" y1="365.45" x2="312.30" y2="365.45" stroke="#8c8c8c" stroke-width="1.1"/>
<text x="301.50" y="370.25" font-family='"Liberation Sans", sans-serif' font-size="12.2" font-weight="bold" text-anchor="end" >1.8</text>
<line x1="312.30" y1="344.00" x2="516.60" y2="344.00" stroke="#a8a8a8" stroke-width="1.1"/>
<line x1="307.80" y1="344.00" x2="312.30" y2="344.00" stroke="#8c8c8c" stroke-width="1.1"/>
<text x="301.50" y="348.80" font-family='"Liberation Sans", sans-serif' font-size="12.2" font-weight="bold" text-anchor="end" >2</text>
<line x1="516.60" y1="344.00" x2="516.60" y2="558.50" stroke="#a8a8a8" stroke-width="1.1"/>
<rect x="320.71" y="451.25" width="12.02" height="107.25" fill="#1d2817"/>
<rect x="333.28" y="518.19" width="10.92" height="40.31" fill="#ffdf10" stroke="#6b5f10" stroke-width="1.1"/>
<line x1="326.72" y1="433.66" x2="326.72" y2="451.25" stroke="#4d4d4d" stroke-width="1.2"/>
<line x1="326.72" y1="451.25" x2="326.72" y2="468.84" stroke="#3c3d33" stroke-width="1.2"/>
<line x1="324.32" y1="433.66" x2="329.12" y2="433.66" stroke="#2a2a2a" stroke-width="1.5"/>
<line x1="338.74" y1="499.41" x2="338.74" y2="530.40" stroke="#4d4d4d" stroke-width="1.2"/>
<line x1="336.34" y1="499.41" x2="341.14" y2="499.41" stroke="#2a2a2a" stroke-width="1.5"/>
<line x1="336.34" y1="530.40" x2="341.14" y2="530.40" stroke="#2a2a2a" stroke-width="1.5"/>
<rect x="361.57" y="451.25" width="12.02" height="107.25" fill="#1d2817"/>
<rect x="374.14" y="514.76" width="10.92" height="43.74" fill="#ffdf10" stroke="#6b5f10" stroke-width="1.1"/>
<line x1="367.58" y1="436.02" x2="367.58" y2="451.25" stroke="#4d4d4d" stroke-width="1.2"/>
<line x1="367.58" y1="451.25" x2="367.58" y2="466.48" stroke="#3c3d33" stroke-width="1.2"/>
<line x1="365.18" y1="436.02" x2="369.98" y2="436.02" stroke="#2a2a2a" stroke-width="1.5"/>
<line x1="379.60" y1="501.76" x2="379.60" y2="523.00" stroke="#4d4d4d" stroke-width="1.2"/>
<line x1="377.20" y1="501.76" x2="382.00" y2="501.76" stroke="#2a2a2a" stroke-width="1.5"/>
<line x1="377.20" y1="523.00" x2="382.00" y2="523.00" stroke="#2a2a2a" stroke-width="1.5"/>
<rect x="402.43" y="451.25" width="12.02" height="107.25" fill="#1d2817"/>
<rect x="415.00" y="521.83" width="10.92" height="36.67" fill="#ffdf10" stroke="#6b5f10" stroke-width="1.1"/>
<line x1="408.44" y1="432.16" x2="408.44" y2="451.25" stroke="#4d4d4d" stroke-width="1.2"/>
<line x1="408.44" y1="451.25" x2="408.44" y2="470.34" stroke="#3c3d33" stroke-width="1.2"/>
<line x1="406.04" y1="432.16" x2="410.84" y2="432.16" stroke="#2a2a2a" stroke-width="1.5"/>
<line x1="420.46" y1="515.60" x2="420.46" y2="526.00" stroke="#4d4d4d" stroke-width="1.2"/>
<line x1="418.06" y1="515.60" x2="422.86" y2="515.60" stroke="#2a2a2a" stroke-width="1.5"/>
<line x1="418.06" y1="526.00" x2="422.86" y2="526.00" stroke="#2a2a2a" stroke-width="1.5"/>
<rect x="443.29" y="451.25" width="12.02" height="107.25" fill="#1d2817"/>
<rect x="455.86" y="523.87" width="10.92" height="34.63" fill="#ffdf10" stroke="#6b5f10" stroke-width="1.1"/>
<line x1="449.30" y1="431.30" x2="449.30" y2="451.25" stroke="#4d4d4d" stroke-width="1.2"/>
<line x1="449.30" y1="451.25" x2="449.30" y2="471.20" stroke="#3c3d33" stroke-width="1.2"/>
<line x1="446.90" y1="431.30" x2="451.70" y2="431.30" stroke="#2a2a2a" stroke-width="1.5"/>
<line x1="461.32" y1="507.88" x2="461.32" y2="533.73" stroke="#4d4d4d" stroke-width="1.2"/>
<line x1="458.92" y1="507.88" x2="463.72" y2="507.88" stroke="#2a2a2a" stroke-width="1.5"/>
<line x1="458.92" y1="533.73" x2="463.72" y2="533.73" stroke="#2a2a2a" stroke-width="1.5"/>
<rect x="484.15" y="451.25" width="12.02" height="107.25" fill="#1d2817"/>
<rect x="496.72" y="526.77" width="10.92" height="31.73" fill="#ffdf10" stroke="#6b5f10" stroke-width="1.1"/>
<line x1="490.16" y1="391.94" x2="490.16" y2="451.25" stroke="#4d4d4d" stroke-width="1.2"/>
<line x1="490.16" y1="451.25" x2="490.16" y2="510.56" stroke="#3c3d33" stroke-width="1.2"/>
<line x1="487.76" y1="391.94" x2="492.56" y2="391.94" stroke="#2a2a2a" stroke-width="1.5"/>
<line x1="502.18" y1="515.60" x2="502.18" y2="534.80" stroke="#4d4d4d" stroke-width="1.2"/>
<line x1="499.78" y1="515.60" x2="504.58" y2="515.60" stroke="#2a2a2a" stroke-width="1.5"/>
<line x1="499.78" y1="534.80" x2="504.58" y2="534.80" stroke="#2a2a2a" stroke-width="1.5"/>
<line x1="312.30" y1="344.00" x2="312.30" y2="558.50" stroke="#8c8c8c" stroke-width="1.2"/>
<line x1="312.30" y1="558.50" x2="516.60" y2="558.50" stroke="#8c8c8c" stroke-width="1.2"/>
<line x1="312.30" y1="558.50" x2="312.30" y2="562.00" stroke="#8c8c8c" stroke-width="1"/>
<line x1="353.16" y1="558.50" x2="353.16" y2="562.00" stroke="#8c8c8c" stroke-width="1"/>
<line x1="394.02" y1="558.50" x2="394.02" y2="562.00" stroke="#8c8c8c" stroke-width="1"/>
<line x1="434.88" y1="558.50" x2="434.88" y2="562.00" stroke="#8c8c8c" stroke-width="1"/>
<line x1="475.74" y1="558.50" x2="475.74" y2="562.00" stroke="#8c8c8c" stroke-width="1"/>
<line x1="516.60" y1="558.50" x2="516.60" y2="562.00" stroke="#8c8c8c" stroke-width="1"/>
<text transform="translate(277.50,452.50) rotate(-90)" x="0" y="0" font-family='"Liberation Sans", sans-serif' font-size="15.6" font-weight="bold" text-anchor="middle">Fold Change</text>
<text transform="translate(338.33,563.50) rotate(-90) scale(1,1.08)" x="0" y="0" font-family='"Liberation Sans", sans-serif' font-size="15.5" font-weight="bold" text-anchor="end">NF-E2</text>
<text transform="translate(379.19,563.50) rotate(-90) scale(1,1.08)" x="0" y="0" font-family='"Liberation Sans", sans-serif' font-size="15.5" font-weight="bold" text-anchor="end">GP1b<tspan font-family='"Liberation Serif", serif' font-weight="normal" font-style="italic" font-size="18">α</tspan></text>
<text transform="translate(420.05,563.50) rotate(-90) scale(1,1.08)" x="0" y="0" font-family='"Liberation Sans", sans-serif' font-size="15.5" font-weight="bold" text-anchor="end">JAK2</text>
<text transform="translate(460.91,563.50) rotate(-90) scale(1,1.08)" x="0" y="0" font-family='"Liberation Sans", sans-serif' font-size="15.5" font-weight="bold" text-anchor="end">STAT1</text>
<text transform="translate(491.27,583.50) rotate(-90) scale(1,1.08)" x="0" y="0" font-family='"Liberation Sans", sans-serif' font-size="15.5" font-weight="bold" text-anchor="middle">InsP</text>
<text transform="translate(507.27,583.50) rotate(-90) scale(1,1.08)" x="0" y="0" font-family='"Liberation Sans", sans-serif' font-size="15.5" font-weight="bold" text-anchor="middle">(3) R2</text>
<line x1="48.00" y1="846.60" x2="52.50" y2="846.60" stroke="#8c8c8c" stroke-width="1.1"/>
<text x="42.30" y="851.90" font-family='"Liberation Sans", sans-serif' font-size="12.2" font-weight="bold" text-anchor="end" >0</text>
<line x1="52.50" y1="825.02" x2="285.50" y2="825.02" stroke="#a8a8a8" stroke-width="1.1"/>
<line x1="48.00" y1="825.02" x2="52.50" y2="825.02" stroke="#8c8c8c" stroke-width="1.1"/>
<text x="42.30" y="830.32" font-family='"Liberation Sans", sans-serif' font-size="12.2" font-weight="bold" text-anchor="end" >0.2</text>
<line x1="52.50" y1="803.44" x2="285.50" y2="803.44" stroke="#a8a8a8" stroke-width="1.1"/>
<line x1="48.00" y1="803.44" x2="52.50" y2="803.44" stroke="#8c8c8c" stroke-width="1.1"/>
<text x="42.30" y="808.74" font-family='"Liberation Sans", sans-serif' font-size="12.2" font-weight="bold" text-anchor="end" >0.4</text>
<line x1="52.50" y1="781.86" x2="285.50" y2="781.86" stroke="#a8a8a8" stroke-width="1.1"/>
<line x1="48.00" y1="781.86" x2="52.50" y2="781.86" stroke="#8c8c8c" stroke-width="1.1"/>
<text x="42.30" y="787.16" font-family='"Liberation Sans", sans-serif' font-size="12.2" font-weight="bold" text-anchor="end" >0.6</text>
<line x1="52.50" y1="760.28" x2="285.50" y2="760.28" stroke="#a8a8a8" stroke-width="1.1"/>
<line x1="48.00" y1="760.28" x2="52.50" y2="760.28" stroke="#8c8c8c" stroke-width="1.1"/>
<text x="42.30" y="765.58" font-family='"Liberation Sans", sans-serif' font-size="12.2" font-weight="bold" text-anchor="end" >0.8</text>
<line x1="52.50" y1="738.70" x2="285.50" y2="738.70" stroke="#a8a8a8" stroke-width="1.1"/>
<line x1="48.00" y1="738.70" x2="52.50" y2="738.70" stroke="#8c8c8c" stroke-width="1.1"/>
<text x="42.30" y="744.00" font-family='"Liberation Sans", sans-serif' font-size="12.2" font-weight="bold" text-anchor="end" >1</text>
<line x1="52.50" y1="717.12" x2="285.50" y2="717.12" stroke="#a8a8a8" stroke-width="1.1"/>
<line x1="48.00" y1="717.12" x2="52.50" y2="717.12" stroke="#8c8c8c" stroke-width="1.1"/>
<text x="42.30" y="722.42" font-family='"Liberation Sans", sans-serif' font-size="12.2" font-weight="bold" text-anchor="end" >1.2</text>
<line x1="52.50" y1="695.54" x2="285.50" y2="695.54" stroke="#a8a8a8" stroke-width="1.1"/>
<line x1="48.00" y1="695.54" x2="52.50" y2="695.54" stroke="#8c8c8c" stroke-width="1.1"/>
<text x="42.30" y="700.84" font-family='"Liberation Sans", sans-serif' font-size="12.2" font-weight="bold" text-anchor="end" >1.4</text>
<line x1="52.50" y1="673.96" x2="285.50" y2="673.96" stroke="#a8a8a8" stroke-width="1.1"/>
<line x1="48.00" y1="673.96" x2="52.50" y2="673.96" stroke="#8c8c8c" stroke-width="1.1"/>
<text x="42.30" y="679.26" font-family='"Liberation Sans", sans-serif' font-size="12.2" font-weight="bold" text-anchor="end" >1.6</text>
<line x1="52.50" y1="652.38" x2="285.50" y2="652.38" stroke="#a8a8a8" stroke-width="1.1"/>
<line x1="48.00" y1="652.38" x2="52.50" y2="652.38" stroke="#8c8c8c" stroke-width="1.1"/>
<text x="42.30" y="657.68" font-family='"Liberation Sans", sans-serif' font-size="12.2" font-weight="bold" text-anchor="end" >1.8</text>
<line x1="52.50" y1="630.80" x2="285.50" y2="630.80" stroke="#a8a8a8" stroke-width="1.1"/>
<line x1="48.00" y1="630.80" x2="52.50" y2="630.80" stroke="#8c8c8c" stroke-width="1.1"/>
<text x="42.30" y="636.10" font-family='"Liberation Sans", sans-serif' font-size="12.2" font-weight="bold" text-anchor="end" >2</text>
<line x1="285.50" y1="630.80" x2="285.50" y2="846.60" stroke="#a8a8a8" stroke-width="1.1"/>
<rect x="60.50" y="738.70" width="11.42" height="107.90" fill="#1d2817"/>
<rect x="72.47" y="845.42" width="10.32" height="1.18" fill="#ffdf10" stroke="#6b5f10" stroke-width="1.1"/>
<line x1="66.21" y1="713.13" x2="66.21" y2="738.70" stroke="#4d4d4d" stroke-width="1.2"/>
<line x1="66.21" y1="738.70" x2="66.21" y2="764.27" stroke="#3c3d33" stroke-width="1.2"/>
<line x1="63.81" y1="713.13" x2="68.61" y2="713.13" stroke="#2a2a2a" stroke-width="1.5"/>
<rect x="99.33" y="738.70" width="11.42" height="107.90" fill="#1d2817"/>
<rect x="111.30" y="840.89" width="10.32" height="5.71" fill="#ffdf10" stroke="#6b5f10" stroke-width="1.1"/>
<line x1="105.04" y1="721.65" x2="105.04" y2="738.70" stroke="#4d4d4d" stroke-width="1.2"/>
<line x1="105.04" y1="738.70" x2="105.04" y2="755.75" stroke="#3c3d33" stroke-width="1.2"/>
<line x1="102.64" y1="721.65" x2="107.44" y2="721.65" stroke="#2a2a2a" stroke-width="1.5"/>
<line x1="116.46" y1="839.26" x2="116.46" y2="841.42" stroke="#4d4d4d" stroke-width="1.2"/>
<line x1="114.06" y1="839.26" x2="118.86" y2="839.26" stroke="#2a2a2a" stroke-width="1.5"/>
<line x1="114.06" y1="841.42" x2="118.86" y2="841.42" stroke="#2a2a2a" stroke-width="1.5"/>
<rect x="138.16" y="738.70" width="11.42" height="107.90" fill="#1d2817"/>
<rect x="150.13" y="832.04" width="10.32" height="14.56" fill="#ffdf10" stroke="#6b5f10" stroke-width="1.1"/>
<line x1="143.87" y1="718.95" x2="143.87" y2="738.70" stroke="#4d4d4d" stroke-width="1.2"/>
<line x1="143.87" y1="738.70" x2="143.87" y2="758.45" stroke="#3c3d33" stroke-width="1.2"/>
<line x1="141.47" y1="718.95" x2="146.27" y2="718.95" stroke="#2a2a2a" stroke-width="1.5"/>
<line x1="155.29" y1="828.80" x2="155.29" y2="833.76" stroke="#4d4d4d" stroke-width="1.2"/>
<line x1="152.89" y1="828.80" x2="157.69" y2="828.80" stroke="#2a2a2a" stroke-width="1.5"/>
<line x1="152.89" y1="833.76" x2="157.69" y2="833.76" stroke="#2a2a2a" stroke-width="1.5"/>
<rect x="177.00" y="738.70" width="11.42" height="107.90" fill="#1d2817"/>
<rect x="188.97" y="841.75" width="10.32" height="4.84" fill="#ffdf10" stroke="#6b5f10" stroke-width="1.1"/>
<line x1="182.71" y1="717.55" x2="182.71" y2="738.70" stroke="#4d4d4d" stroke-width="1.2"/>
<line x1="182.71" y1="738.70" x2="182.71" y2="759.85" stroke="#3c3d33" stroke-width="1.2"/>
<line x1="180.31" y1="717.55" x2="185.11" y2="717.55" stroke="#2a2a2a" stroke-width="1.5"/>
<line x1="194.13" y1="840.34" x2="194.13" y2="842.07" stroke="#4d4d4d" stroke-width="1.2"/>
<line x1="191.73" y1="840.34" x2="196.53" y2="840.34" stroke="#2a2a2a" stroke-width="1.5"/>
<line x1="191.73" y1="842.07" x2="196.53" y2="842.07" stroke="#2a2a2a" stroke-width="1.5"/>
<rect x="215.83" y="738.70" width="11.42" height="107.90" fill="#1d2817"/>
<rect x="227.80" y="843.91" width="10.32" height="2.69" fill="#ffdf10" stroke="#6b5f10" stroke-width="1.1"/>
<line x1="221.54" y1="705.47" x2="221.54" y2="738.70" stroke="#4d4d4d" stroke-width="1.2"/>
<line x1="221.54" y1="738.70" x2="221.54" y2="771.93" stroke="#3c3d33" stroke-width="1.2"/>
<line x1="219.14" y1="705.47" x2="223.94" y2="705.47" stroke="#2a2a2a" stroke-width="1.5"/>
<line x1="232.96" y1="842.50" x2="232.96" y2="844.23" stroke="#4d4d4d" stroke-width="1.2"/>
<line x1="230.56" y1="842.50" x2="235.36" y2="842.50" stroke="#2a2a2a" stroke-width="1.5"/>
<line x1="230.56" y1="844.23" x2="235.36" y2="844.23" stroke="#2a2a2a" stroke-width="1.5"/>
<rect x="254.66" y="738.70" width="11.42" height="107.90" fill="#1d2817"/>
<rect x="266.63" y="846.29" width="10.32" height="0.31" fill="#ffdf10" stroke="#6b5f10" stroke-width="1.1"/>
<line x1="260.37" y1="693.27" x2="260.37" y2="738.70" stroke="#4d4d4d" stroke-width="1.2"/>
<line x1="260.37" y1="738.70" x2="260.37" y2="784.13" stroke="#3c3d33" stroke-width="1.2"/>
<line x1="257.97" y1="693.27" x2="262.77" y2="693.27" stroke="#2a2a2a" stroke-width="1.5"/>
<line x1="52.50" y1="630.80" x2="52.50" y2="846.60" stroke="#8c8c8c" stroke-width="1.2"/>
<line x1="52.50" y1="846.60" x2="285.50" y2="846.60" stroke="#8c8c8c" stroke-width="1.2"/>
<line x1="52.50" y1="846.60" x2="52.50" y2="850.10" stroke="#8c8c8c" stroke-width="1"/>
<line x1="91.33" y1="846.60" x2="91.33" y2="850.10" stroke="#8c8c8c" stroke-width="1"/>
<line x1="130.17" y1="846.60" x2="130.17" y2="850.10" stroke="#8c8c8c" stroke-width="1"/>
<line x1="169.00" y1="846.60" x2="169.00" y2="850.10" stroke="#8c8c8c" stroke-width="1"/>
<line x1="207.83" y1="846.60" x2="207.83" y2="850.10" stroke="#8c8c8c" stroke-width="1"/>
<line x1="246.67" y1="846.60" x2="246.67" y2="850.10" stroke="#8c8c8c" stroke-width="1"/>
<line x1="285.50" y1="846.60" x2="285.50" y2="850.10" stroke="#8c8c8c" stroke-width="1"/>
<text transform="translate(17.00,740.50) rotate(-90)" x="0" y="0" font-family='"Liberation Sans", sans-serif' font-size="15.6" font-weight="bold" text-anchor="middle">Fold Change</text>
<text transform="translate(77.52,853.10) rotate(-90) scale(1,1.08)" x="0" y="0" font-family='"Liberation Sans", sans-serif' font-size="15.5" font-weight="bold" text-anchor="end">Gata1</text>
<text transform="translate(116.35,853.10) rotate(-90) scale(1,1.08)" x="0" y="0" font-family='"Liberation Sans", sans-serif' font-size="15.5" font-weight="bold" text-anchor="end">Casp12</text>
<text transform="translate(155.18,853.10) rotate(-90) scale(1,1.08)" x="0" y="0" font-family='"Liberation Sans", sans-serif' font-size="15.5" font-weight="bold" text-anchor="end">Capn2</text>
<text transform="translate(194.02,853.10) rotate(-90) scale(1,1.08)" x="0" y="0" font-family='"Liberation Sans", sans-serif' font-size="15.5" font-weight="bold" text-anchor="end">CoagX</text>
<text transform="translate(232.85,853.10) rotate(-90) scale(1,1.08)" x="0" y="0" font-family='"Liberation Sans", sans-serif' font-size="15.5" font-weight="bold" text-anchor="end"><tspan font-family='"Liberation Serif", serif' font-weight="normal" font-size="14">β</tspan>1 Tub</text>
<text transform="translate(271.68,853.10) rotate(-90) scale(1,1.08)" x="0" y="0" font-family='"Liberation Sans", sans-serif' font-size="15.5" font-weight="bold" text-anchor="end"><tspan font-family='"Liberation Serif", serif' font-weight="normal" font-size="14">β</tspan>3 Tub</text>
<line x1="349.70" y1="847.00" x2="354.20" y2="847.00" stroke="#8c8c8c" stroke-width="1.1"/>
<text x="343.50" y="851.60" font-family='"Liberation Sans", sans-serif' font-size="12.2" font-weight="bold" text-anchor="end" >0</text>
<line x1="354.20" y1="819.94" x2="513.10" y2="819.94" stroke="#a8a8a8" stroke-width="1.1"/>
<line x1="349.70" y1="819.94" x2="354.20" y2="819.94" stroke="#8c8c8c" stroke-width="1.1"/>
<text x="343.50" y="824.54" font-family='"Liberation Sans", sans-serif' font-size="12.2" font-weight="bold" text-anchor="end" >1</text>
<line x1="354.20" y1="792.88" x2="513.10" y2="792.88" stroke="#a8a8a8" stroke-width="1.1"/>
<line x1="349.70" y1="792.88" x2="354.20" y2="792.88" stroke="#8c8c8c" stroke-width="1.1"/>
<text x="343.50" y="797.48" font-family='"Liberation Sans", sans-serif' font-size="12.2" font-weight="bold" text-anchor="end" >2</text>
<line x1="354.20" y1="765.81" x2="513.10" y2="765.81" stroke="#a8a8a8" stroke-width="1.1"/>
<line x1="349.70" y1="765.81" x2="354.20" y2="765.81" stroke="#8c8c8c" stroke-width="1.1"/>
<text x="343.50" y="770.41" font-family='"Liberation Sans", sans-serif' font-size="12.2" font-weight="bold" text-anchor="end" >3</text>
<line x1="354.20" y1="738.75" x2="513.10" y2="738.75" stroke="#a8a8a8" stroke-width="1.1"/>
<line x1="349.70" y1="738.75" x2="354.20" y2="738.75" stroke="#8c8c8c" stroke-width="1.1"/>
<text x="343.50" y="743.35" font-family='"Liberation Sans", sans-serif' font-size="12.2" font-weight="bold" text-anchor="end" >4</text>
<line x1="354.20" y1="711.69" x2="513.10" y2="711.69" stroke="#a8a8a8" stroke-width="1.1"/>
<line x1="349.70" y1="711.69" x2="354.20" y2="711.69" stroke="#8c8c8c" stroke-width="1.1"/>
<text x="343.50" y="716.29" font-family='"Liberation Sans", sans-serif' font-size="12.2" font-weight="bold" text-anchor="end" >5</text>
<line x1="354.20" y1="684.62" x2="513.10" y2="684.62" stroke="#a8a8a8" stroke-width="1.1"/>
<line x1="349.70" y1="684.62" x2="354.20" y2="684.62" stroke="#8c8c8c" stroke-width="1.1"/>
<text x="343.50" y="689.23" font-family='"Liberation Sans", sans-serif' font-size="12.2" font-weight="bold" text-anchor="end" >6</text>
<line x1="354.20" y1="657.56" x2="513.10" y2="657.56" stroke="#a8a8a8" stroke-width="1.1"/>
<line x1="349.70" y1="657.56" x2="354.20" y2="657.56" stroke="#8c8c8c" stroke-width="1.1"/>
<text x="343.50" y="662.16" font-family='"Liberation Sans", sans-serif' font-size="12.2" font-weight="bold" text-anchor="end" >7</text>
<line x1="354.20" y1="630.50" x2="513.10" y2="630.50" stroke="#a8a8a8" stroke-width="1.1"/>
<line x1="349.70" y1="630.50" x2="354.20" y2="630.50" stroke="#8c8c8c" stroke-width="1.1"/>
<text x="343.50" y="635.10" font-family='"Liberation Sans", sans-serif' font-size="12.2" font-weight="bold" text-anchor="end" >8</text>
<line x1="513.10" y1="630.50" x2="513.10" y2="847.00" stroke="#a8a8a8" stroke-width="1.1"/>
<rect x="362.38" y="819.94" width="11.68" height="27.06" fill="#1d2817"/>
<rect x="374.61" y="696.27" width="10.58" height="150.73" fill="#ffdf10" stroke="#6b5f10" stroke-width="1.1"/>
<line x1="368.22" y1="810.20" x2="368.22" y2="819.94" stroke="#4d4d4d" stroke-width="1.2"/>
<line x1="368.22" y1="819.94" x2="368.22" y2="829.68" stroke="#3c3d33" stroke-width="1.2"/>
<line x1="365.82" y1="810.20" x2="370.62" y2="810.20" stroke="#2a2a2a" stroke-width="1.5"/>
<line x1="379.90" y1="668.93" x2="379.90" y2="718.72" stroke="#4d4d4d" stroke-width="1.2"/>
<line x1="377.50" y1="668.93" x2="382.30" y2="668.93" stroke="#2a2a2a" stroke-width="1.5"/>
<line x1="377.50" y1="718.72" x2="382.30" y2="718.72" stroke="#2a2a2a" stroke-width="1.5"/>
<rect x="402.10" y="819.94" width="11.68" height="27.06" fill="#1d2817"/>
<rect x="414.34" y="691.13" width="10.58" height="155.87" fill="#ffdf10" stroke="#6b5f10" stroke-width="1.1"/>
<line x1="407.95" y1="812.90" x2="407.95" y2="819.94" stroke="#4d4d4d" stroke-width="1.2"/>
<line x1="407.95" y1="819.94" x2="407.95" y2="826.97" stroke="#3c3d33" stroke-width="1.2"/>
<line x1="405.55" y1="812.90" x2="410.35" y2="812.90" stroke="#2a2a2a" stroke-width="1.5"/>
<line x1="419.63" y1="647.01" x2="419.63" y2="724.41" stroke="#4d4d4d" stroke-width="1.2"/>
<line x1="417.23" y1="647.01" x2="422.03" y2="647.01" stroke="#2a2a2a" stroke-width="1.5"/>
<line x1="417.23" y1="724.41" x2="422.03" y2="724.41" stroke="#2a2a2a" stroke-width="1.5"/>
<rect x="441.83" y="819.94" width="11.68" height="27.06" fill="#1d2817"/>
<rect x="454.06" y="799.11" width="10.58" height="47.89" fill="#ffdf10" stroke="#6b5f10" stroke-width="1.1"/>
<line x1="447.67" y1="815.88" x2="447.67" y2="819.94" stroke="#4d4d4d" stroke-width="1.2"/>
<line x1="447.67" y1="819.94" x2="447.67" y2="824.00" stroke="#3c3d33" stroke-width="1.2"/>
<line x1="445.27" y1="815.88" x2="450.07" y2="815.88" stroke="#2a2a2a" stroke-width="1.5"/>
<line x1="459.35" y1="785.84" x2="459.35" y2="808.03" stroke="#4d4d4d" stroke-width="1.2"/>
<line x1="456.95" y1="785.84" x2="461.75" y2="785.84" stroke="#2a2a2a" stroke-width="1.5"/>
<line x1="456.95" y1="808.03" x2="461.75" y2="808.03" stroke="#2a2a2a" stroke-width="1.5"/>
<rect x="481.55" y="819.94" width="11.68" height="27.06" fill="#1d2817"/>
<rect x="493.79" y="812.10" width="10.58" height="34.90" fill="#ffdf10" stroke="#6b5f10" stroke-width="1.1"/>
<line x1="487.40" y1="812.09" x2="487.40" y2="819.94" stroke="#4d4d4d" stroke-width="1.2"/>
<line x1="487.40" y1="819.94" x2="487.40" y2="827.79" stroke="#3c3d33" stroke-width="1.2"/>
<line x1="485.00" y1="812.09" x2="489.80" y2="812.09" stroke="#2a2a2a" stroke-width="1.5"/>
<line x1="499.08" y1="795.58" x2="499.08" y2="822.37" stroke="#4d4d4d" stroke-width="1.2"/>
<line x1="496.68" y1="795.58" x2="501.48" y2="795.58" stroke="#2a2a2a" stroke-width="1.5"/>
<line x1="496.68" y1="822.37" x2="501.48" y2="822.37" stroke="#2a2a2a" stroke-width="1.5"/>
<line x1="354.20" y1="630.50" x2="354.20" y2="847.00" stroke="#8c8c8c" stroke-width="1.2"/>
<line x1="354.20" y1="847.00" x2="513.10" y2="847.00" stroke="#8c8c8c" stroke-width="1.2"/>
<line x1="354.20" y1="847.00" x2="354.20" y2="850.50" stroke="#8c8c8c" stroke-width="1"/>
<line x1="393.93" y1="847.00" x2="393.93" y2="850.50" stroke="#8c8c8c" stroke-width="1"/>
<line x1="433.65" y1="847.00" x2="433.65" y2="850.50" stroke="#8c8c8c" stroke-width="1"/>
<line x1="473.38" y1="847.00" x2="473.38" y2="850.50" stroke="#8c8c8c" stroke-width="1"/>
<line x1="513.10" y1="847.00" x2="513.10" y2="850.50" stroke="#8c8c8c" stroke-width="1"/>
<text transform="translate(328.00,743.20) rotate(-90)" x="0" y="0" font-family='"Liberation Sans", sans-serif' font-size="15.6" font-weight="bold" text-anchor="middle">Fold Change</text>
<text transform="translate(379.66,854.50) rotate(-90) scale(1,1.08)" x="0" y="0" font-family='"Liberation Sans", sans-serif' font-size="15.5" font-weight="bold" text-anchor="end">Gata2</text>
<text transform="translate(419.39,854.50) rotate(-90) scale(1,1.08)" x="0" y="0" font-family='"Liberation Sans", sans-serif' font-size="15.5" font-weight="bold" text-anchor="end">Ets1</text>
<text transform="translate(459.11,854.50) rotate(-90) scale(1,1.08)" x="0" y="0" font-family='"Liberation Sans", sans-serif' font-size="15.5" font-weight="bold" text-anchor="end">Myc</text>
<text transform="translate(498.84,854.50) rotate(-90) scale(1,1.08)" x="0" y="0" font-family='"Liberation Sans", sans-serif' font-size="15.5" font-weight="bold" text-anchor="end">Myb</text>
</svg>
</body></html>
